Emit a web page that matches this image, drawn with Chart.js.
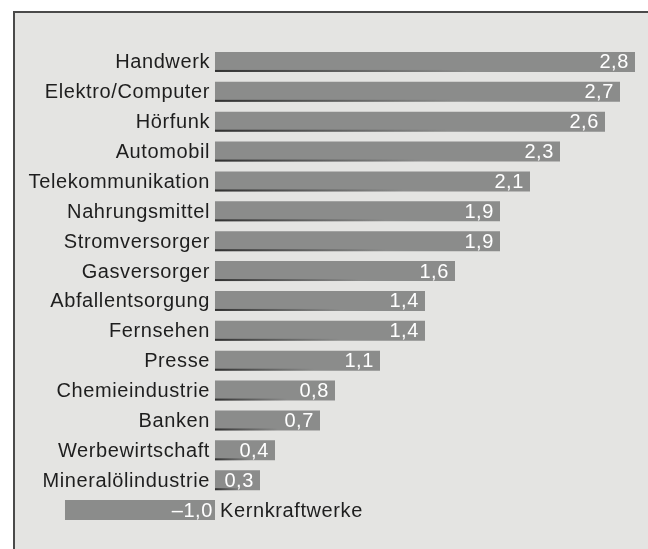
<!DOCTYPE html>
<html>
<head>
<meta charset="utf-8">
<script src="https://cdn.jsdelivr.net/npm/chart.js@4/dist/chart.umd.min.js"></script>
<style>
  html, body { margin: 0; padding: 0; background: #ffffff; }
  #wrap { position: relative; width: 648px; height: 549px; overflow: hidden; }
  #frame { position: absolute; left: 13px; top: 11px; right: -5px; bottom: -5px;
           background: #e4e4e2; border-left: 2px solid #4a4a4a; border-top: 2px solid #4a4a4a; }
  #c { position: absolute; left: 0; top: 0; }
</style>
</head>
<body>
<div id="wrap">
  <div id="frame"></div>
  <canvas id="c" width="648" height="549"></canvas>
</div>
<script>
const categories = ["Handwerk", "Elektro/Computer", "Hörfunk", "Automobil", "Telekommunikation",
  "Nahrungsmittel", "Stromversorger", "Gasversorger", "Abfallentsorgung", "Fernsehen",
  "Presse", "Chemieindustrie", "Banken", "Werbewirtschaft", "Mineralölindustrie", "Kernkraftwerke"];
const values = [2.8, 2.7, 2.6, 2.3, 2.1, 1.9, 1.9, 1.6, 1.4, 1.4, 1.1, 0.8, 0.7, 0.4, 0.3, -1.0];
const valueLabels = ["2,8", "2,7", "2,6", "2,3", "2,1", "1,9", "1,9", "1,6", "1,4", "1,4",
  "1,1", "0,8", "0,7", "0,4", "0,3", "\u20131,0"];

const FONT = "20px 'Liberation Sans', Arial, Helvetica, sans-serif";

const labelPlugin = {
  id: 'labels',
  afterDatasetsDraw(chart) {
    const ctx = chart.ctx;
    const xs = chart.scales.x, ys = chart.scales.y;
    const zero = xs.getPixelForValue(0);
    const bars = chart.getDatasetMeta(0).data;
    ctx.save();
    // dark shadow line under left part of each bar
    bars.forEach((b, i) => {
      if (values[i] < 0) return;
      const bottom = b.y + b.height / 2;
      const len = (b.x - b.base) * 0.6;
      const g = ctx.createLinearGradient(b.base, 0, b.base + len, 0);
      g.addColorStop(0, 'rgba(40,40,40,0.9)');
      g.addColorStop(1, 'rgba(40,40,40,0)');
      ctx.fillStyle = g;
      ctx.fillRect(b.base, bottom - 2, len, 2);
    });
    ctx.font = FONT;
    try { ctx.letterSpacing = '0.6px'; } catch (e) {}
    ctx.textBaseline = 'middle';
    values.forEach((v, i) => {
      const y = ys.getPixelForValue(i) + 1;
      const end = xs.getPixelForValue(v);
      ctx.fillStyle = '#1e1e1e';
      if (v >= 0) {
        ctx.textAlign = 'right';
        ctx.fillText(categories[i], zero - 5, y);
      } else {
        ctx.textAlign = 'left';
        ctx.fillText(categories[i], zero + 5, y);
      }
      ctx.fillStyle = '#ffffff';
      ctx.textAlign = 'right';
      if (v >= 0) ctx.fillText(valueLabels[i], end - 6, y);
      else ctx.fillText(valueLabels[i], zero - 2, y);
    });
    ctx.restore();
  }
};

new Chart(document.getElementById('c'), {
  type: 'bar',
  data: {
    labels: categories,
    datasets: [{
      data: values,
      backgroundColor: '#8b8c8b',
      borderWidth: 0,
      barPercentage: 0.67,
      categoryPercentage: 1.0
    }]
  },
  options: {
    indexAxis: 'y',
    responsive: false,
    animation: false,
    devicePixelRatio: 1,
    layout: { padding: { left: 0, right: 0, top: 47, bottom: 24 } },
    plugins: { legend: { display: false }, tooltip: { enabled: false } },
    scales: {
      x: { display: false, min: -1.4333, max: 2.8867 },
      y: { display: false }
    }
  },
  plugins: [labelPlugin]
});
</script>
</body>
</html>
